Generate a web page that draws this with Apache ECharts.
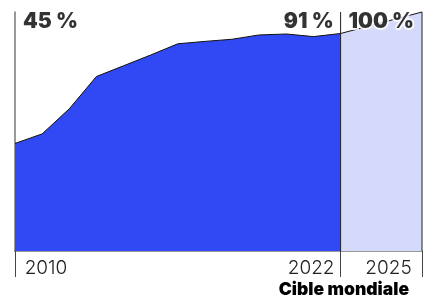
<!DOCTYPE html>
<html>
<head>
<meta charset="utf-8">
<script src="https://cdn.jsdelivr.net/npm/echarts@6/dist/echarts.min.js"></script>
<style>
  html, body { margin: 0; padding: 0; background: #fff; }
  #chart { width: 424px; height: 306px; }
</style>
</head>
<body>
<div id="chart"></div>
<script>
// historical share (%), 2010 -> 2022
const years = [2010, 2011, 2012, 2013, 2014, 2015, 2016, 2017, 2018, 2019, 2020, 2021, 2022]
const shares = [45, 49, 59.5, 73, 77.5, 82, 86.7, 87.7, 88.6, 90.4, 90.8, 89.7, 91]
// global target
const targetYears = [2022, 2025]
const targetShares = [91, 100]
// highlighted values shown on top
const labelYears = [2010, 2022, 2025]
const labelTexts = ['45 %', '91 %', '100 %']
const tickYears = [2010, 2022, 2025]
const footnote = 'Cible mondiale'

const blue = '#3049f5'
const lightBlue = '#d5dafb'
const font = 'Inter, "Noto Sans", sans-serif'

const chart = echarts.init(document.getElementById('chart'))

const labelStyles = [
  { align: 'left', offset: [8, 0] },
  { align: 'right', offset: [-7, 0] },
  { align: 'right', offset: [-8, 0], textBorderColor: '#fff', textBorderWidth: 4 }
]

// vertical separators at 2022 and 2025
const separators = targetYears.map(y => ({
  type: 'line',
  clip: false,
  silent: true,
  symbol: 'none',
  data: [[y, 0], [y, 100]],
  lineStyle: { color: '#222', width: 1 },
  z: 4
}))

chart.setOption({
  animation: false,
  title: {
    text: footnote,
    right: 10,
    bottom: 2,
    textStyle: { fontFamily: font, fontSize: 17.5, fontWeight: 900, color: '#000' }
  },
  grid: { left: 15, right: 2, top: 12, bottom: 55, outerBoundsMode: 'none' },
  xAxis: {
    type: 'value',
    min: 2010,
    max: 2025,
    splitLine: { show: false },
    axisLine: { show: true, lineStyle: { color: '#777', width: 1.5 } },
    axisTick: {
      show: true,
      customValues: tickYears,
      length: 26,
      lineStyle: { color: '#444', width: 1 }
    },
    axisLabel: {
      customValues: tickYears,
      margin: 8,
      fontFamily: font,
      fontSize: 19,
      fontWeight: 300,
      color: '#222',
      formatter: v => {
        const key = v === 2010 ? 'a' : v === 2022 ? 'b' : 'c'
        return '{' + key + '|' + v + '}'
      },
      rich: {
        a: { fontFamily: font, fontSize: 19, fontWeight: 300, color: '#222', padding: [0, 0, 0, 62] },
        b: { fontFamily: font, fontSize: 19, fontWeight: 300, color: '#222', padding: [0, 59, 0, 0] },
        c: { fontFamily: font, fontSize: 19, fontWeight: 300, color: '#222', padding: [0, 67, 0, 0] }
      }
    }
  },
  yAxis: {
    type: 'value',
    min: 0,
    max: 100,
    splitLine: { show: false },
    axisLabel: { show: false },
    axisTick: { show: false },
    axisLine: { show: true, lineStyle: { color: '#777', width: 1.5 } }
  },
  series: [
    {
      type: 'line',
      data: years.map((y, i) => [y, shares[i]]),
      symbol: 'none',
      lineStyle: { color: '#111', width: 1 },
      areaStyle: { color: blue, opacity: 1 },
      z: 3
    },
    {
      type: 'line',
      clip: false,
      data: targetYears.map((y, i) => [y, targetShares[i]]),
      symbol: 'none',
      lineStyle: { color: '#111', width: 1 },
      areaStyle: { color: lightBlue, opacity: 1 },
      z: 2
    },
    ...separators,
    {
      type: 'scatter',
      clip: false,
      symbolSize: 0,
      z: 5,
      data: labelYears.map((y, i) => ({
        value: [y, 96],
        label: Object.assign({ formatter: labelTexts[i] }, labelStyles[i])
      })),
      label: {
        show: true,
        position: 'inside',
        fontFamily: font,
        fontSize: 21,
        fontWeight: 900,
        color: '#000'
      }
    }
  ]
})
</script>
</body>
</html>
